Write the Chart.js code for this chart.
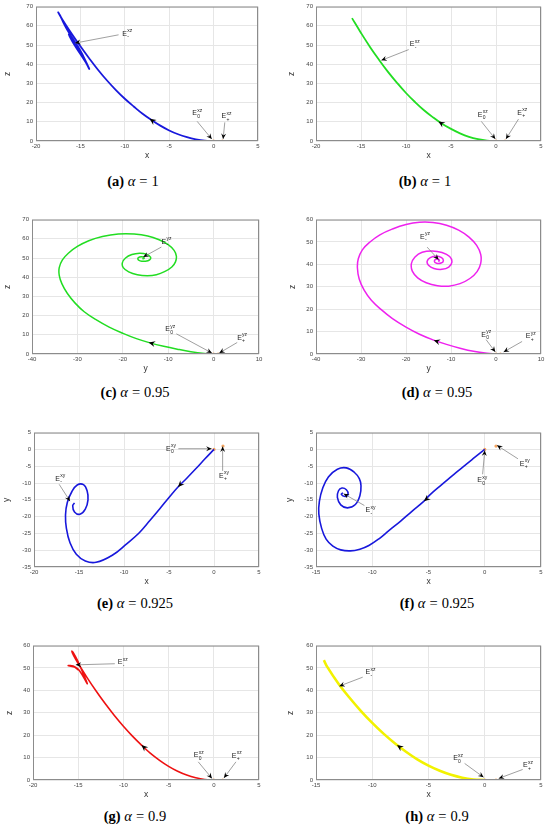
<!DOCTYPE html>
<html>
<head>
<meta charset="utf-8">
<script src="https://cdn.jsdelivr.net/npm/chart.js@4.4.1/dist/chart.umd.min.js"></script>
<style>
    body { margin: 0; background: #fff; width: 550px; height: 833px; position: relative; overflow: hidden; }
    canvas { position: absolute; }
    .cap { position: absolute; font-family: "Liberation Serif", "DejaVu Serif", serif; font-size: 14.5px;
           transform: translateX(-50%); white-space: nowrap; color: #000; }
    .cap .eq { margin: 0 4px; }
</style>
</head>
<body>
<script>
// trajectories, [horizontal, vertical]
const pathA = [[0,0],[-1,0.2],[-2,0.9],[-3,2],[-4,3.5],[-5,5.5],[-6,8],[-7,11],[-8,14.2],[-9,18],[-10,22],
    [-11,26.5],[-12,31.5],[-13,37],[-14,43],[-15,49.3],[-16,56],[-17,63],[-17.5,67],[-17.3,65.5],[-16.9,61.5],
    [-16.5,58],[-16.1,55],[-15.6,51.5],[-15,47],[-14.5,42.5],[-14,37.5],[-14.4,41],[-15.1,46],[-15.8,51],
    [-16.3,55.5],[-16,53.5],[-15.3,48.5],[-14.7,44.5],[-15.2,48],[-15.7,51.5],[-15.5,51]];
const pathB = [[0,0],[-1,0.25],[-2,1],[-3,2.2],[-4,4],[-5,6.3],[-6,9],[-7,12.3],[-8,16],[-9,20.3],[-10,25],
    [-11,30.3],[-12,36],[-13,42.3],[-14,49],[-15,56.3],[-16,64]];
const pathC = [[0,0],[-2,0.3],[-5,1.2],[-8,2.5],[-11,4],[-14,5.8],[-17,8],[-20,10.8],[-23,14],[-26,18],
    [-28.5,22],[-30.5,26.5],[-32.2,31.5],[-33.4,36.5],[-34,41],[-34,45],[-33.3,49],[-32,52.5],[-30,56],
    [-27.5,59],[-24.5,61.2],[-21,62.5],[-17.5,62.5],[-14.5,61.5],[-12,59.5],[-10,57],[-8.7,54],[-8.2,51],
    [-8.4,48],[-9.2,45.3],[-10.7,43],[-12.6,41.3],[-14.6,40.8],[-16.8,41.3],[-18.7,42.8],[-19.9,45],
    [-20.1,47.5],[-19.4,50],[-18,51.8],[-16.3,52.5],[-14.8,52],[-13.9,50.5],[-14.1,49],[-15,48.3],
    [-16.2,48.5],[-16.7,49.5],[-16.3,50.5],[-15.5,50.5],[-15.3,49.8],[-15.7,49.6]];
const pathD = [[0,0],[-2,0.3],[-5,1.2],[-8,2.6],[-11,4.3],[-14,6.3],[-17,8.8],[-20,12],[-23,15.8],
    [-25.5,19.8],[-27.7,24],[-29.3,28.5],[-30.4,33.5],[-30.8,38.5],[-30.6,42.5],[-29.7,46.5],[-28,50],
    [-25.8,53.2],[-23,55.8],[-20,57.8],[-17,58.8],[-14,58.7],[-11,57.5],[-8.3,55.3],[-6,52.2],[-4.3,48.5],
    [-3.4,44.5],[-3.4,40.5],[-4.2,36.8],[-5.8,33.7],[-8,31.4],[-10.5,30.3],[-13,30.5],[-15.5,31.8],
    [-17.4,34],[-18.6,37],[-18.8,40.3],[-18,43.3],[-16.4,45.4],[-14.2,46],[-12,45.3],[-10.3,43.5],
    [-9.8,41],[-10.5,38.8],[-12,37.8],[-13.8,38.2],[-15,39.6],[-15.3,41.4],[-14.6,43],[-13.3,43.6],
    [-12.1,43],[-11.7,41.6],[-12.2,40.6],[-13.2,40.5],[-13.7,41.4],[-13.3,42.3],[-12.7,42.2],[-12.6,41.6],
    [-12.9,41.5]];
const pathE = [[0,0],[-1,-2.8],[-2,-5.7],[-3,-8.5],[-4,-11.2],[-5,-14.3],[-6,-17.6],[-7.1,-21.1],
    [-8.3,-24.8],[-9.7,-28.1],[-11.3,-31.5],[-13.1,-33.6],[-14.3,-33.2],[-15.3,-31.2],[-16,-27.8],
    [-16.4,-23.5],[-16.5,-19.5],[-16.3,-15.8],[-15.8,-12.6],[-15.2,-10.6],[-14.5,-10.5],[-14.1,-12.3],
    [-14,-15],[-14.3,-17.8],[-14.9,-19.3],[-15.5,-18.6],[-15.7,-16.8],[-15.5,-15.9]];
const pathF = [[0,0],[-0.9,-2.4],[-1.9,-5.1],[-2.9,-7.9],[-3.9,-10.7],[-4.9,-13.6],[-5.4,-15.4],
    [-6.5,-18.5],[-7.5,-21.4],[-8.5,-24.1],[-9.4,-26.6],[-10.3,-28.6],[-11.1,-29.7],[-11.95,-30.2],
    [-12.8,-29.9],[-13.5,-28.8],[-14.1,-26.7],[-14.5,-23.5],[-14.75,-19.2],[-14.7,-15.5],[-14.4,-11.5],
    [-13.9,-8.2],[-13.1,-5.9],[-12.3,-5.5],[-11.6,-6.8],[-11.15,-8.7],[-11,-10.8],[-11.1,-13.8],
    [-11.5,-16.4],[-12.2,-17.4],[-12.8,-16.5],[-13.1,-14.3],[-13,-12.3],[-12.7,-11.5],[-12.3,-12],
    [-12.15,-13.3],[-12.4,-14],[-12.75,-13.4],[-12.6,-12.9]];
const pathG = [[0,0],[-1,0.25],[-2,1],[-3,2.2],[-4,3.9],[-5,6.1],[-6,8.8],[-7,11.9],[-8,15.6],[-9,19.6],
    [-10,24],[-11,28.8],[-12,34],[-13,39.6],[-14,45.6],[-15,52],[-15.5,55.5],[-15.7,57.5],[-15.5,56.5],
    [-15.1,53.5],[-14.6,49],[-14,43],[-14.4,45.8],[-15.1,49.8],[-16.1,51.1],[-15.4,50.6],[-15,49.2],
    [-15.5,50.8],[-15.8,51]];
const pathH = [[0,0],[-1,0.25],[-2,1],[-3,2.3],[-4,4.1],[-5,6.4],[-6,9.2],[-7,12.6],[-8,16.4],[-9,20.7],
    [-10,25.5],[-11,30.8],[-12,36.6],[-13,43],[-14,50.5],[-14.3,53.5]];

// equilibrium points marked in orange
const eqXZ = [[0,0],[1,0]];
const eqYZ = [[0,0],[1,0]];
const eqXY = [[0,0],[1,1]];

// labels: centre (lx,ly), leader from (fx,fy) to tip (tx,ty)
const notesA = [
    { sup: 'xz', sub: '-', lx: -9.75, ly: 55.9, fx: -10.7, fy: 55.3, tx: -15.6, ty: 51 },
    { sup: 'xz', sub: '0', lx: -1.85, ly: 14.5, fx: -1.85, fy: 10.2, tx: -0.2, ty: 1 },
    { sup: 'xz', sub: '+', lx: 1.44, ly: 12.8, fx: 1.26, fy: 9.7, tx: 1.07, ty: 1 }
];
const notesB = [
    { sup: 'xz', sub: '-', lx: -9.04, ly: 50.3, fx: -9.7, fy: 47.6, tx: -12.74, ty: 42 },
    { sup: 'xz', sub: '0', lx: -1.48, ly: 13.6, fx: -1.63, fy: 10.2, tx: -0.07, ty: 1 },
    { sup: 'xz', sub: '+', lx: 2.9, ly: 14.8, fx: 2.5, fy: 11.4, tx: 1.1, ty: 1 }
];
const notesC = [
    { sup: 'yz', sub: '-', lx: -10.4, ly: 58.3, fx: -11.5, fy: 55.7, tx: -15.5, ty: 50.5 },
    { sup: 'yz', sub: '0', lx: -9.56, ly: 12.9, fx: -8.2, fy: 10.5, tx: -0.37, ty: 0.5 },
    { sup: 'yz', sub: '+', lx: 6.25, ly: 8.4, fx: 5.2, fy: 6, tx: 1.25, ty: 0.5 }
];
const notesD = [
    { sup: 'yz', sub: '-', lx: -15.8, ly: 52.4, fx: -15.3, fy: 47.7, tx: -12.74, ty: 42.1 },
    { sup: 'yz', sub: '0', lx: -2.2, ly: 8.6, fx: -2.2, fy: 6.4, tx: -0.15, ty: 0.9 },
    { sup: 'yz', sub: '+', lx: 7.7, ly: 7.8, fx: 5.8, fy: 5.6, tx: 1.7, ty: 0.9 }
];
const notesE = [
    { sup: 'xy', sub: '0', lx: -4.8, ly: 0.2, fx: -3.96, fy: 0.2, tx: -0.26, ty: 0.2 },
    { sup: 'xy', sub: '+', lx: 1.1, ly: -7.8, fx: 0.96, fy: -6.4, tx: 0.96, ty: 0.9 },
    { sup: 'xy', sub: '-', lx: -17.1, ly: -8.8, fx: -17.2, fy: -10.4, tx: -16, ty: -15.4 }
];
const notesF = [
    { sup: 'xy', sub: '0', lx: -0.24, ly: -9.2, fx: -0.19, fy: -7.4, tx: 0, ty: -0.3 },
    { sup: 'xy', sub: '+', lx: 3.55, ly: -4.3, fx: 2.95, fy: -2.8, tx: 1.09, ty: 1.2 },
    { sup: 'xy', sub: '-', lx: -10.17, ly: -18.2, fx: -10.7, fy: -16.7, tx: -12.54, ty: -13.2 }
];
const notesG = [
    { sup: 'xz', sub: '-', lx: -10.1, ly: 52.6, fx: -10.95, fy: 51.9, tx: -15.27, ty: 51.4 },
    { sup: 'xz', sub: '0', lx: -1.68, ly: 11.1, fx: -1.72, fy: 8.1, tx: -0.2, ty: 0.7 },
    { sup: 'xz', sub: '+', lx: 2.53, ly: 10.7, fx: 2.45, fy: 8.1, tx: 1.12, ty: 0.9 }
];
const notesH = [
    { sup: 'xz', sub: '-', lx: -10.17, ly: 48.1, fx: -10.85, fy: 45.9, tx: -12.93, ty: 41.9 },
    { sup: 'xz', sub: '0', lx: -2.38, ly: 9.6, fx: -1.79, fy: 7.4, tx: -0.1, ty: 1.2 },
    { sup: 'xz', sub: '+', lx: 3.84, ly: 6.5, fx: 3.37, fy: 4.7, tx: 1.24, ty: 0.7 }
];

// flow direction arrowheads: [headX, headY, backX, backY]
const dirA = [-7.2, 11.6, -6.5, 9.3];
const dirB = [-6.4, 10.2, -5.7, 8.1];
const dirC = [-14.3, 6, -12, 4.6];
const dirD = [-13.85, 6.1, -11.5, 4.6];
const dirE = [-4, -11.2, -3.3, -9.2];
const dirF = [-5.4, -15.4, -4.6, -13.1];
const dirG = [-8, 15.6, -7.2, 12.6];
const dirH = [-7.8, 15.6, -7, 12.6];

const SANS = '"Liberation Sans", Arial, sans-serif';

function arrowHead(ctx, px, py, ang, len) {
    ctx.save();
    ctx.translate(px, py);
    ctx.rotate(ang);
    ctx.beginPath();
    ctx.moveTo(0, 0);
    ctx.lineTo(-len, -len * 0.45);
    ctx.lineTo(-len * 0.65, 0);
    ctx.lineTo(-len, len * 0.45);
    ctx.closePath();
    ctx.fill();
    ctx.restore();
}

function drawLabel(ctx, cx, cy, sup, sub) {
    ctx.font = `7px ${SANS}`;
    const wE = ctx.measureText('E').width;
    ctx.font = `5px ${SANS}`;
    const wS = Math.max(ctx.measureText(sup).width, ctx.measureText(sub).width);
    const x0 = cx - (wE + wS) / 2;
    ctx.fillStyle = '#222';
    ctx.textAlign = 'left';
    ctx.textBaseline = 'middle';
    ctx.font = `7px ${SANS}`;
    ctx.fillText('E', x0, cy);
    ctx.font = `5px ${SANS}`;
    ctx.fillText(sup, x0 + wE + 0.3, cy - 3);
    ctx.fillText(sub, x0 + wE + 0.3, cy + 3);
}

// frame, leader lines, labels and flow arrow
function overlayFor(notes, dir) {
    return {
        id: 'overlay',
        afterDatasetsDraw(chart) {
            const { ctx, chartArea: a, scales: { x, y } } = chart;
            ctx.save();
            ctx.strokeStyle = '#8c8c8c';
            ctx.lineWidth = 1;
            ctx.strokeRect(a.left + 0.5, a.top + 0.5, a.width - 1, a.height - 1);

            ctx.fillStyle = '#000';
            const hx = x.getPixelForValue(dir[0]), hy = y.getPixelForValue(dir[1]);
            const bx = x.getPixelForValue(dir[2]), by = y.getPixelForValue(dir[3]);
            arrowHead(ctx, hx, hy, Math.atan2(hy - by, hx - bx), 6.5);

            notes.forEach(n => {
                const fx = x.getPixelForValue(n.fx), fy = y.getPixelForValue(n.fy);
                const tx = x.getPixelForValue(n.tx), ty = y.getPixelForValue(n.ty);
                ctx.strokeStyle = '#777';
                ctx.lineWidth = 0.7;
                ctx.beginPath();
                ctx.moveTo(fx, fy);
                ctx.lineTo(tx, ty);
                ctx.stroke();
                ctx.fillStyle = '#000';
                arrowHead(ctx, tx, ty, Math.atan2(ty - fy, tx - fx), 5.5);
                drawLabel(ctx, x.getPixelForValue(n.lx), y.getPixelForValue(n.ly), n.sup, n.sub);
            });
            ctx.restore();
        }
    };
}

function makePanel(p) {
    const yW = p.yW, xH = 24, padTop = 6, padRight = 10;
    const canvas = document.createElement('canvas');
    const w = p.R - p.L + yW + padRight;
    const h = p.B - p.T + padTop + xH;
    canvas.width = w;
    canvas.height = h;
    canvas.style.left = (p.L - yW) + 'px';
    canvas.style.top = (p.T - padTop) + 'px';
    document.body.appendChild(canvas);

    const tickFont = { family: SANS, size: 6 };
    const titleFont = { family: SANS, size: 8.5 };

    new Chart(canvas, {
        type: 'scatter',
        data: {
            datasets: [{
                data: p.path.map(([a, b]) => ({ x: a, y: b })),
                showLine: true,
                borderColor: p.color,
                borderWidth: p.lw,
                pointRadius: 0,
                tension: 0.4
            }, {
                data: p.eq.map(([a, b]) => ({ x: a, y: b })),
                pointRadius: 1.6,
                pointBackgroundColor: '#f4a460',
                pointBorderWidth: 0
            }]
        },
        options: {
            responsive: false,
            animation: false,
            layout: { padding: { top: padTop, right: padRight, left: 0, bottom: 0 } },
            plugins: { legend: { display: false }, tooltip: { enabled: false } },
            scales: {
                x: {
                    min: p.xr[0], max: p.xr[1],
                    ticks: { stepSize: p.xStep, font: tickFont, color: '#444', padding: 2, maxRotation: 0 },
                    grid: { color: '#e6e6e6', drawTicks: false },
                    border: { display: false },
                    title: { display: true, text: p.xTitle, font: titleFont, color: '#333', padding: { top: 0, bottom: 4 } },
                    afterFit: s => { s.height = xH; }
                },
                y: {
                    min: p.yr[0], max: p.yr[1],
                    ticks: { stepSize: p.yStep, font: tickFont, color: '#444', padding: 3 },
                    grid: { color: '#e6e6e6', drawTicks: false },
                    border: { display: false },
                    title: { display: true, text: p.yTitle, font: titleFont, color: '#333', padding: { top: 0, bottom: 0 } },
                    afterFit: s => { s.width = yW; }
                }
            }
        },
        plugins: [overlayFor(p.notes, p.dir)]
    });

    const cap = document.createElement('div');
    cap.className = 'cap';
    cap.style.left = p.capX + 'px';
    cap.style.top = (p.capY - 9) + 'px';
    cap.innerHTML = `<b>(${p.tag})</b> <i>α</i><span class="eq">=</span>${p.alpha}`;
    document.body.appendChild(cap);
}

const panels = [
    { tag: 'a', alpha: '1', L: 36, R: 258, T: 6, B: 141, yW: 33, path: pathA, color: '#1818dc', lw: 1.8,
      xr: [-20, 5], yr: [0, 70], xStep: 5, yStep: 10, xTitle: 'x', yTitle: 'z', eq: eqXZ, notes: notesA, dir: dirA, capX: 133, capY: 182 },
    { tag: 'b', alpha: '1', L: 316, R: 541, T: 6, B: 141, yW: 29, path: pathB, color: '#22dd22', lw: 1.8,
      xr: [-20, 5], yr: [0, 70], xStep: 5, yStep: 10, xTitle: 'x', yTitle: 'z', eq: eqXZ, notes: notesB, dir: dirB, capX: 425, capY: 182 },
    { tag: 'c', alpha: '0.95', L: 32, R: 259, T: 219, B: 354, yW: 29, path: pathC, color: '#22dd22', lw: 1.5,
      xr: [-40, 10], yr: [0, 70], xStep: 10, yStep: 10, xTitle: 'y', yTitle: 'z', eq: eqYZ, notes: notesC, dir: dirC, capX: 135, capY: 393 },
    { tag: 'd', alpha: '0.95', L: 316, R: 541, T: 219, B: 354, yW: 28, path: pathD, color: '#ee22ee', lw: 1.5,
      xr: [-40, 10], yr: [0, 60], xStep: 10, yStep: 10, xTitle: 'y', yTitle: 'z', eq: eqYZ, notes: notesD, dir: dirD, capX: 437, capY: 393 },
    { tag: 'e', alpha: '0.925', L: 34, R: 259, T: 432, B: 567, yW: 32, path: pathE, color: '#1818dc', lw: 1.6,
      xr: [-20, 5], yr: [-35, 5], xStep: 5, yStep: 5, xTitle: 'x', yTitle: 'y', eq: eqXY, notes: notesE, dir: dirE, capX: 135, capY: 604 },
    { tag: 'f', alpha: '0.925', L: 316, R: 541, T: 432, B: 567, yW: 31, path: pathF, color: '#1818dc', lw: 1.6,
      xr: [-15, 5], yr: [-35, 5], xStep: 5, yStep: 5, xTitle: 'x', yTitle: 'y', eq: eqXY, notes: notesF, dir: dirF, capX: 437, capY: 604 },
    { tag: 'g', alpha: '0.9', L: 33, R: 259, T: 645, B: 780, yW: 28, path: pathG, color: '#ee1111', lw: 1.6,
      xr: [-20, 5], yr: [0, 60], xStep: 5, yStep: 10, xTitle: 'x', yTitle: 'z', eq: eqXZ, notes: notesG, dir: dirG, capX: 135, capY: 817 },
    { tag: 'h', alpha: '0.9', L: 316, R: 541, T: 645, B: 780, yW: 30, path: pathH, color: '#f2f200', lw: 2.6,
      xr: [-15, 5], yr: [0, 60], xStep: 5, yStep: 10, xTitle: 'x', yTitle: 'z', eq: eqXZ, notes: notesH, dir: dirH, capX: 437, capY: 817 }
];

panels.forEach(makePanel);
</script>
</body>
</html>
